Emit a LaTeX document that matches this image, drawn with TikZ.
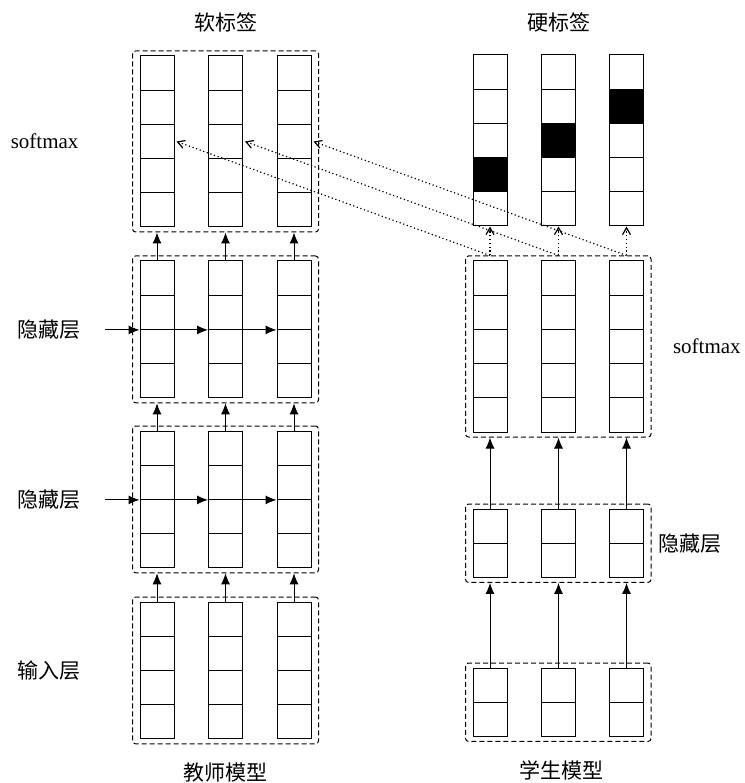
\documentclass[tikz,border=0pt]{standalone}
\usepackage{fontspec}
\setmainfont{Liberation Serif}
\newfontfamily\cjk{Noto Sans CJK SC}
\usetikzlibrary{arrows.meta, positioning, fit}

\begin{document}
\begin{tikzpicture}[
    x=1pt, y=-1pt,
    cell/.style={rectangle, draw, line width=1pt, minimum width=34pt, minimum height=34.2pt, inner sep=0pt},
    group/.style={draw, line width=1pt, dash pattern=on 5pt off 3pt, rounded corners=3pt, inner xsep=7pt, inner ysep=4.5pt},
    arrow/.style={-{Latex[length=11pt, width=9pt]}, line width=1pt},
    softarrow/.style={-{Straight Barb[length=7pt, width=8pt]}, line width=1.2pt, dash pattern=on 1.2pt off 2.6pt},
    lbl/.style={font=\fontsize{21}{25}\selectfont},
    cnlbl/.style={font=\fontsize{21}{25}\selectfont\cjk}
]
\useasboundingbox (0,0) rectangle (744,783);

% Teacher model: softmax, two hidden layers, input layer
\foreach \blk/\top/\n in {ts/56/5, th1/261/4, th2/431/4, ti/602/4}
  \foreach \c/\x in {1/157, 2/225.5, 3/294}
    \foreach \r in {1,...,\n}
      \node[cell] (\blk-\c-\r) at (\x, {\top+(\r-0.5)*34.2}) {};

% Student model: softmax, hidden layer, input layer
\foreach \blk/\top/\n in {ss/261/5, sh/509/2, si/668/2}
  \foreach \c/\x in {1/490, 2/558.5, 3/626.5}
    \foreach \r in {1,...,\n}
      \node[cell] (\blk-\c-\r) at (\x, {\top+(\r-0.5)*34.2}) {};

% Hard labels
\foreach \c/\x/\k in {1/490/4, 2/558.5/3, 3/626.5/2}
  \foreach \r in {1,...,5}{
    \ifnum\r=\k \def\cellfill{black}\else\def\cellfill{white}\fi
    \node[cell, fill=\cellfill] (sy-\c-\r) at (\x, {55+(\r-0.5)*34.2}) {};
  }

% Dashed groups
\foreach \blk/\n in {ts/5, th1/4, th2/4, ti/4, ss/5, sh/2, si/2}
  \node[group, fit=(\blk-1-1)(\blk-3-\n)] (\blk-box) {};

% Arrows between layers
\foreach \lo/\hi in {ti/th2, th2/th1, th1/ts, si/sh, sh/ss}
  \foreach \c in {1,2,3}
    \draw[arrow] (\lo-\c-1.north) -- (\lo-\c-1.north |- \hi-box.south);

% Recurrent arrows in the hidden layers
\foreach \blk/\i in {th1/1, th2/2}{
  \coordinate (in\i) at ([xshift=-35pt]\blk-1-2.south west);
  \draw[arrow] (in\i) -- (\blk-1-2.south west);
  \draw[arrow] (\blk-1-2.south east) -- (\blk-2-2.south west);
  \draw[arrow] (\blk-2-2.south east) -- (\blk-3-2.south west);
}

% Soft and hard targets
\foreach \c in {1,2,3}{
  \coordinate (out\c) at (ss-\c-1.north |- ss-box.north);
  \draw[softarrow] (out\c) -- (sy-\c-5.south);
  \draw[softarrow] (out\c) -- ([xshift=2pt]ts-\c-3.east);
}

% Labels
\node[cnlbl] (softtitle) at ([yshift=28pt]ts-box.north) {软标签};
\node[cnlbl] (hardtitle) at ([yshift=32pt]sy-2-1.north) {硬标签};
\node[cnlbl] (teacher) at ([yshift=-28pt]ti-box.south) {教师模型};
\node[cnlbl] (student) at ([xshift=3pt, yshift=-29pt]si-box.south) {学生模型};
\node[lbl, left=50pt of ts-box] (tsname) {softmax};
\node[cnlbl, left=20pt of in1] (th1name) {隐藏层};
\node[cnlbl, left=20pt of in2] (th2name) {隐藏层};
\node[cnlbl, left=48pt of ti-box] (tiname) {输入层};
\node[lbl, right=18pt of ss-box] (ssname) {softmax};
\node[cnlbl, right=3pt of sh-box] (shname) {隐藏层};

\end{tikzpicture}
\end{document}
